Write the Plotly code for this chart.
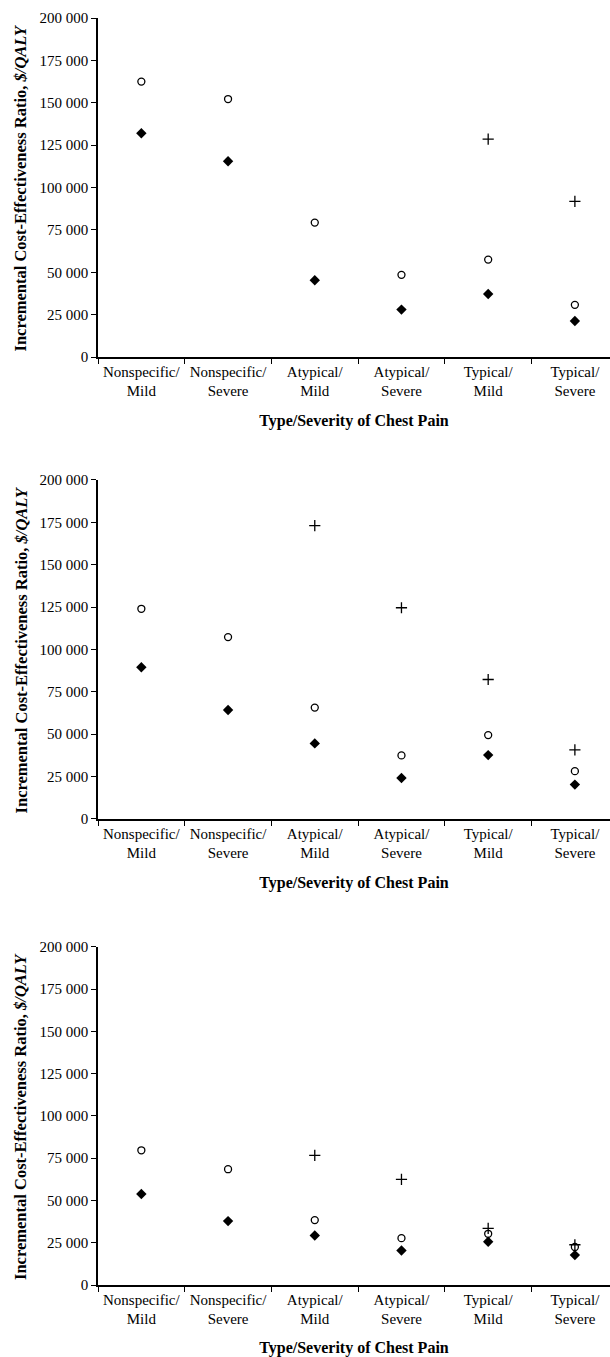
import plotly.graph_objects as go
from plotly.subplots import make_subplots

categories = ["Nonspecific/<br>Mild", "Nonspecific/<br>Severe", "Atypical/<br>Mild",
              "Atypical/<br>Severe", "Typical/<br>Mild", "Typical/<br>Severe"]

# Panel 1
p1_circle = [162500, 152200, 79300, 48500, 57500, 30800]
p1_diamond = [132000, 115500, 45300, 28000, 37200, 21300]
p1_plus = [None, None, None, None, 128500, 91800]

# Panel 2
p2_circle = [124000, 107300, 65700, 37500, 49500, 28200]
p2_diamond = [89500, 64300, 44600, 24200, 37700, 20300]
p2_plus = [None, None, 173000, 124600, 82300, 40800]

# Panel 3
p3_circle = [79700, 68500, 38400, 27700, 30300, 22500]
p3_diamond = [53800, 37800, 29300, 20400, 25600, 17700]
p3_plus = [None, None, 76700, 62500, 33500, 23800]

y_tickvals = [0, 25000, 50000, 75000, 100000, 125000, 150000, 175000, 200000]
y_ticktext = ["0", "25 000", "50 000", "75 000", "100 000", "125 000", "150 000", "175 000", "200 000"]

x_title = "<b>Type/Severity of Chest Pain</b>"
y_title = "<b>Incremental Cost-Effectiveness Ratio, <i>$/QALY</i></b>"

FONT = "Liberation Serif"

panels = [
    (p1_circle, p1_diamond, p1_plus),
    (p2_circle, p2_diamond, p2_plus),
    (p3_circle, p3_diamond, p3_plus),
]

fig = make_subplots(rows=3, cols=1)

for i, (circ, diam, plus) in enumerate(panels, start=1):
    fig.add_trace(go.Scatter(
        x=categories, y=circ, mode="markers", name="Open circle", showlegend=False,
        marker=dict(symbol="circle-open", size=7, color="black", line=dict(width=1.3, color="black"))),
        row=i, col=1)
    fig.add_trace(go.Scatter(
        x=categories, y=diam, mode="markers", name="Filled diamond", showlegend=False,
        marker=dict(symbol="diamond", size=8, color="black", line=dict(width=0))),
        row=i, col=1)
    fig.add_trace(go.Scatter(
        x=categories, y=plus, mode="markers", name="Cross", showlegend=False,
        marker=dict(symbol="cross-thin-open", size=8, color="black", line=dict(width=1.3, color="black"))),
        row=i, col=1)

# Pixel layout: plot area x 98..610, y 18..1285
domains = [[0.7324, 1.0], [0.3678, 0.6354], [0.0, 0.2668]]

for i in range(1, 4):
    fig.update_xaxes(
        row=i, col=1,
        type="category", categoryorder="array", categoryarray=categories,
        range=[-0.5, 5.405], automargin=False,
        tickson="boundaries", ticks="outside", ticklen=5, tickwidth=1.3, tickcolor="black",
        tickangle=0,
        showline=True, linecolor="black", linewidth=1.5,
        showgrid=False, zeroline=False,
        tickfont=dict(family=FONT, size=15, color="black"),
        title=dict(text=x_title, font=dict(family=FONT, size=16, color="black"), standoff=17),
    )
    fig.update_yaxes(
        row=i, col=1,
        range=[0, 200000], domain=domains[i - 1], automargin=False,
        tickvals=y_tickvals, ticktext=y_ticktext,
        ticks="outside", ticklen=5, tickwidth=1.3, tickcolor="black",
        showline=True, linecolor="black", linewidth=1.5,
        showgrid=False, zeroline=False,
        tickfont=dict(family=FONT, size=15, color="black"),
    )
    d0, d1 = domains[i - 1]
    fig.add_annotation(
        text=y_title, textangle=-90, showarrow=False,
        xref="paper", yref="paper", x=-0.1504, y=(d0 + d1) / 2,
        xanchor="center", yanchor="middle",
        font=dict(family=FONT, size=16.5, color="black"),
    )

fig.update_layout(
    width=610, height=1357,
    margin=dict(l=98, r=0, t=18, b=72),
    plot_bgcolor="white", paper_bgcolor="white",
    font=dict(family=FONT, color="black"),
    showlegend=False,
)

fig.write_html("out.html")
